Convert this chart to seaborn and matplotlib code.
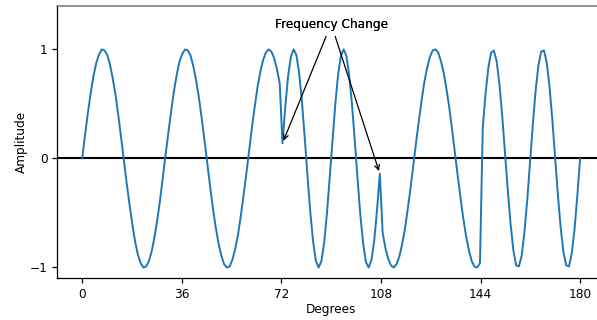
import numpy as np
import pandas as pd
import matplotlib
matplotlib.use("Agg")
import matplotlib.pyplot as plt
import seaborn as sns

# Amplitude samples (180 evenly spaced samples over 0..180 degrees)
amplitude = [
    0.00, 0.21, 0.41, 0.59, 0.75, 0.87, 0.95, 1.00, 0.99, 0.95,
    0.86, 0.73, 0.58, 0.39, 0.19, -0.02, -0.23, -0.42, -0.60, -0.76,
    -0.88, -0.96, -1.00, -0.99, -0.94, -0.85, -0.72, -0.56, -0.38, -0.17,
    0.04, 0.24, 0.44, 0.62, 0.77, 0.89, 0.96, 1.00, 0.99, 0.94,
    0.84, 0.71, 0.55, 0.36, 0.16, -0.05, -0.26, -0.46, -0.63, -0.78,
    -0.89, -0.97, -1.00, -0.99, -0.93, -0.83, -0.70, -0.53, -0.34, -0.14,
    0.07, 0.28, 0.47, 0.65, 0.79, 0.90, 0.97, 1.00, 0.98, 0.92,
    0.82, 0.69, 0.14, 0.47, 0.75, 0.93, 1.00, 0.95, 0.78, 0.52,
    0.19, -0.16, -0.49, -0.76, -0.94, -1.00, -0.94, -0.77, -0.50, -0.17,
    0.17, 0.50, 0.77, 0.94, 1.00, 0.94, 0.76, 0.49, 0.16, -0.19,
    -0.52, -0.78, -0.95, -1.00, -0.93, -0.75, -0.47, -0.14, -0.68, -0.82,
    -0.92, -0.98, -1.00, -0.97, -0.90, -0.79, -0.65, -0.47, -0.28, -0.07,
    0.14, 0.34, 0.53, 0.70, 0.83, 0.93, 0.99, 1.00, 0.97, 0.89,
    0.78, 0.63, 0.46, 0.26, 0.05, -0.16, -0.36, -0.55, -0.71, -0.84,
    -0.94, -0.99, -1.00, -0.96, 0.28, 0.59, 0.83, 0.97, 0.99, 0.89,
    0.68, 0.39, 0.05, -0.29, -0.60, -0.84, -0.98, -0.99, -0.89, -0.67,
    -0.38, -0.04, 0.31, 0.62, 0.85, 0.98, 0.99, 0.88, 0.66, 0.36,
    0.02, -0.33, -0.63, -0.86, -0.98, -0.99, -0.87, -0.65, -0.34, 0.00,
]
degrees = np.linspace(0, 180, len(amplitude))

x_ticks = [0, 36, 72, 108, 144, 180]
y_ticks = [-1, 0, 1]
x_label = "Degrees"
y_label = "Amplitude"
note_text = "Frequency Change"
note_idx = [72, 107]          # samples where the frequency changes
note_pos = (90, 1.2)

df = pd.DataFrame({"Degrees": degrees, "Amplitude": amplitude})

sns.set_style("ticks")
plt.rcParams["font.family"] = ["DejaVu Sans"]
fs = 8.7

fig = plt.figure(figsize=(5.97, 3.2), dpi=100)
ax = fig.add_axes([0.096, 0.130, 0.9174, 0.852])

sns.lineplot(data=df, x="Degrees", y="Amplitude", ax=ax, color="#1f77b4",
             linewidth=1.4, sort=False, estimator=None)
ax.axhline(0, color="black", linewidth=1.5, zorder=1)

for i in note_idx:
    ax.annotate(note_text, xy=(degrees[i], amplitude[i]), xytext=note_pos,
                ha="center", fontsize=fs, color="black",
                arrowprops=dict(arrowstyle="->", color="black", lw=0.9))

ax.set_xlim(-9, 189)
ax.set_ylim(-1.1, 1.4)
ax.set_xticks(x_ticks)
ax.set_yticks(y_ticks)
ax.set_xlabel(x_label, fontsize=fs, color="black", labelpad=1.5)
ax.set_ylabel(y_label, fontsize=fs, color="black", labelpad=1.5)
ax.tick_params(labelsize=fs, length=3.5, width=0.9, colors="black", labelcolor="black")

for side in ["left", "bottom"]:
    ax.spines[side].set_color("black")
    ax.spines[side].set_linewidth(0.9)
ax.spines["top"].set_color("0.5")
ax.spines["top"].set_linewidth(1.2)
ax.spines["right"].set_visible(False)

fig.savefig("out.png", dpi=100)
